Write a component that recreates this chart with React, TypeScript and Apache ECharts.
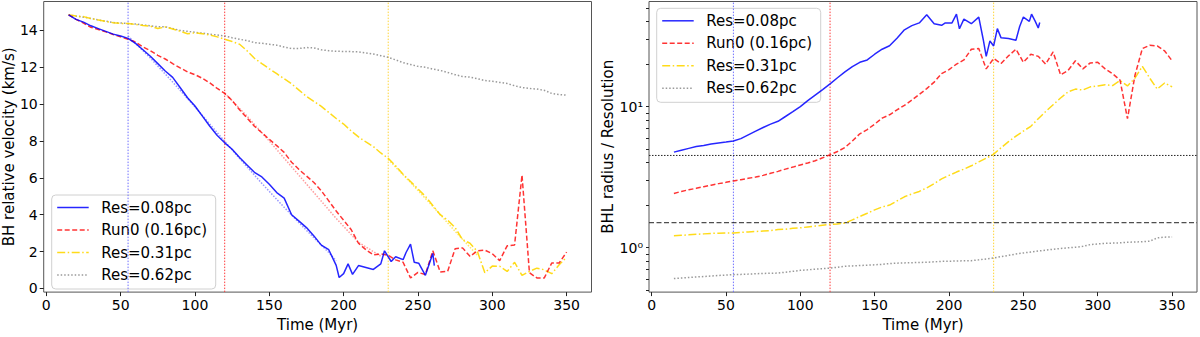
import React, { useEffect, useRef } from "react";
import * as echarts from "echarts";

// ---------- data ----------
const T5 = [15,20,25,30,35,40,45,50,55,60,65,70,75,80,85,90,95,100,105,110,115,120,125,130,135,140,145,150,155,160,165,170,175,180,185,190,195,200,205,210,215,220,225,230,235,240,245,250,255,260,265,270,275,280,285,290,295,300,305,310,315,320,325,330,335,340,345,350];

// Left panel: BH relative velocity (km/s)
const blueVelT = [15,20,25,30,35,40,45,50,55,60,65,70,75,80,85,90,95,100,105,110,115,120,125,130,135,140,145,150,155,160,165,170,175,180,185,190,195,197,200,203,206,210,220,225,227.5,232,235,240,242,245,247.5,250.5,255,260,261];
const blueVel = [14.85,14.6,14.45,14.25,14.1,13.95,13.8,13.7,13.57,13.3,12.95,12.6,12.2,11.8,11.45,10.9,10.35,9.9,9.35,8.8,8.3,7.9,7.55,7.1,6.7,6.3,6.05,5.65,5.2,4.9,4.0,3.65,3.3,2.85,2.35,2.1,1.25,0.59,0.8,1.33,0.76,1.24,1.03,1.33,2.04,1.46,1.72,1.56,1.95,2.4,1.42,1.37,0.71,1.9,1.24];
const redVel = [14.85,14.6,14.4,14.17,14.05,13.92,13.78,13.65,13.52,13.37,13.1,12.9,12.65,12.45,12.2,11.97,11.75,11.6,11.4,11.15,10.85,10.58,10.2,9.69,9.25,8.8,8.45,8.09,7.75,7.38,6.85,6.45,6.1,5.75,5.3,4.75,4.2,3.7,3.2,2.45,2.1,1.82,1.87,1.8,1.55,1.42,0.57,0.87,0.75,2.04,0.89,0.93,2.15,2.2,1.74,2.04,2.08,1.88,1.51,2.31,2.36,6.15,0.85,0.57,0.57,1.38,1.38,1.97];
const yelVel = [14.85,14.78,14.75,14.65,14.57,14.49,14.42,14.38,14.37,14.33,14.27,14.23,14.1,14.19,14.08,13.96,13.82,13.87,13.82,13.75,13.65,13.52,13.4,13.25,12.9,12.49,12.2,11.92,11.65,11.38,11.1,10.76,10.42,10.15,9.88,9.55,9.22,8.92,8.55,8.22,7.95,7.7,7.35,7.06,6.65,6.2,5.8,5.4,5.0,4.5,4.0,3.7,3.3,2.65,2.45,2.0,0.85,1.21,1.2,0.92,1.42,0.71,0.92,1.1,1.01,0.8,1.28,1.69];
const grayVel = [14.85,14.78,14.72,14.65,14.57,14.5,14.43,14.4,14.38,14.35,14.3,14.25,14.2,14.2,14.1,14.0,13.95,13.9,13.85,13.8,13.75,13.7,13.6,13.52,13.45,13.34,13.3,13.25,13.2,13.1,13.02,13.02,13.07,13.05,12.95,12.9,12.87,12.86,12.85,12.84,12.78,12.72,12.63,12.54,12.4,12.25,12.15,12.05,12.0,11.9,11.83,11.72,11.6,11.5,11.47,11.38,11.28,11.24,11.18,11.12,11.0,10.9,10.85,10.82,10.75,10.58,10.52,10.49];

// Left panel fits (faint dotted)
const blueFitT = [55,70,85,100,115,130,145,160,175,190,195];
const blueFit = [13.7,12.5,11.2,9.85,8.45,7.05,5.7,4.4,3.15,1.95,1.5];
const redFitT = [120,135,150,165,180,195,210,225];
const redFit = [10.6,9.35,8.0,6.6,5.2,3.8,2.5,1.75];
const yelFitT = [230,245,260,275,290];
const yelFit = [7.0,5.75,4.45,3.1,1.8];

// Right panel: BHL radius / Resolution
const blueRadT = [15,20,25,30,35,40,45,50,55,60,65,70,75,80,85,90,95,100,105,110,115,120,125,130,135,140,145,150,155,160,165,170,175,180,185,190,195,197.5,202,205,207,210,215,220,223,225,227.5,230,232.5,235,240,245,247.5,250,254,255.5,258,260,261];
const blueRad = [4.75,4.9,5.05,5.2,5.3,5.42,5.52,5.6,5.7,5.92,6.3,6.7,7.1,7.5,7.86,8.5,9.2,10.0,11.0,12.05,13.2,14.5,16.0,17.6,19.2,20.6,21.4,23.5,25.5,27.0,30.5,35.0,37.5,39.2,44.8,38.7,37.7,39.2,39.2,45.2,35.6,41.7,38.7,43.1,29.9,22.7,29.2,26.9,35.7,30.7,30.4,29.5,37,43.1,40.2,45.2,40.2,36.1,39.5];
const redRad = [2.42,2.5,2.57,2.63,2.7,2.77,2.84,2.9,2.97,3.03,3.1,3.16,3.25,3.36,3.47,3.6,3.72,3.85,3.98,4.13,4.33,4.55,4.8,5.12,5.7,6.41,6.87,7.5,8.28,8.74,9.47,10.2,11.1,12.2,13.4,14.9,17.1,18.3,20.0,21.4,25.5,25.8,18.5,21.9,20.2,22.9,25.5,20.6,23.5,22.7,20.0,24.4,16.8,18.0,21.1,18.5,20.4,20.6,18.5,17.1,15.4,8.2,16.6,25.8,27.2,26.9,24.8,21.1];
const yelRad = [1.21,1.22,1.23,1.24,1.25,1.26,1.265,1.27,1.27,1.28,1.29,1.3,1.31,1.32,1.34,1.35,1.37,1.38,1.4,1.42,1.44,1.46,1.47,1.49,1.57,1.66,1.75,1.85,1.94,2.0,2.14,2.29,2.4,2.5,2.65,2.84,3.07,3.25,3.43,3.6,3.8,4.05,4.3,4.6,5.1,5.64,6.17,6.7,7.24,8.2,9.22,10.3,11.5,12.7,13.3,13.1,13.8,14.0,14.3,14.1,15.3,14.0,15.9,19.3,15.9,13.3,14.7,13.8];
const grayRad = [0.603,0.608,0.613,0.618,0.623,0.628,0.634,0.638,0.642,0.645,0.648,0.652,0.655,0.657,0.659,0.668,0.678,0.689,0.695,0.702,0.708,0.714,0.725,0.737,0.741,0.745,0.75,0.754,0.76,0.77,0.775,0.778,0.781,0.784,0.786,0.792,0.798,0.8,0.803,0.805,0.807,0.818,0.83,0.843,0.862,0.88,0.9,0.915,0.93,0.945,0.958,0.972,0.985,0.995,1.005,1.02,1.05,1.06,1.07,1.075,1.08,1.09,1.095,1.1,1.11,1.17,1.185,1.19];

// reference lines
const vLines = [55, 120, 230];
const hLinesRight = [4.5, 1.5];

// ticks
const xTicks = [0, 50, 100, 150, 200, 250, 300, 350];
const yTicksLeft = [0, 2, 4, 6, 8, 10, 12, 14];
const yTicksRightMajor = [1, 10];
const yTicksRightMinor = [0.5, 0.6, 0.7, 0.8, 0.9, 2, 3, 4, 5, 6, 7, 8, 9, 20, 30, 40, 50];

const names = ["Res=0.08pc", "Run0 (0.16pc)", "Res=0.31pc", "Res=0.62pc"];
const colors = ["rgba(0,0,255,0.85)", "rgba(255,0,0,0.8)", "rgba(255,215,0,0.9)", "rgba(128,128,128,0.8)"];
const dashes: any[] = ["solid", [5, 2.5], [8, 2.5, 1.5, 2.5], [1.5, 2]];
const vColors = ["#6f6fff", "#ff3a3a", "#ffd53a"];

const FONT = "DejaVu Sans";
const sup: Record<string, string> = { "0": "⁰", "1": "¹", "-": "⁻" };

function pairs(t: number[], v: number[], log = false) {
  return t.map((x, i) => [x, log ? Math.log10(v[i]) : v[i]]);
}

export default function App() {
  const ref = useRef<HTMLDivElement>(null);
  useEffect(() => {
    document.body.style.margin = "0";
    const chart = echarts.init(ref.current!, null, { renderer: "svg" });

    const gridL = { left: 43.5, top: 1.5, width: 548, height: 295.5 };
    const gridR = { left: 649, top: 1.5, width: 548, height: 295.5 };
    const gridStyle = { show: true, borderColor: "#555", borderWidth: 1, backgroundColor: "transparent" };

    const yMinL = -0.2, yMaxL = 15.57;
    const lmin = Math.log10(0.483);
    const lmax = Math.log10(55.6);
    const xMin = -1.75, xMax = 366.75;

    const tickStyle = { lineStyle: { color: "#222", width: 1 } };
    const xAxisCommon = (gi: number) => ({
      type: "value",
      gridIndex: gi,
      position: "bottom",
      min: xMin,
      max: xMax,
      axisLine: { show: false, onZero: false },
      axisTick: { show: true, length: 4, customValues: xTicks, ...tickStyle },
      axisLabel: { customValues: xTicks, fontSize: 14, color: "#000", fontFamily: FONT, margin: 6 },
      splitLine: { show: false },
      name: "Time (Myr)",
      nameLocation: "middle",
      nameGap: 18,
      nameTextStyle: { fontSize: 15, color: "#000", fontFamily: FONT },
    });

    const seriesLeft: any[] = [blueVel, redVel, yelVel, grayVel].map((v, i) => ({
      type: "line",
      name: names[i],
      xAxisIndex: 0,
      yAxisIndex: 0,
      data: pairs(i === 0 ? blueVelT : T5, v),
      symbol: "none",
      lineStyle: { color: colors[i], width: 1.5, type: dashes[i] },
      z: 3 + (3 - i),
    }));
    const fitSeries = [
      [blueFitT, blueFit, "rgba(70,70,255,0.55)"],
      [redFitT, redFit, "rgba(255,60,60,0.5)"],
      [yelFitT, yelFit, "rgba(255,215,0,0.6)"],
    ].map(([t, v, c]: any) => ({
      type: "line",
      xAxisIndex: 0,
      yAxisIndex: 0,
      data: pairs(t, v),
      symbol: "none",
      lineStyle: { color: c, width: 1.5, type: [1.5, 1.5] },
      z: 2,
    }));
    const seriesRight: any[] = [blueRad, redRad, yelRad, grayRad].map((v, i) => ({
      type: "line",
      name: names[i],
      xAxisIndex: 1,
      yAxisIndex: 1,
      data: pairs(i === 0 ? blueRadT : T5, v, true),
      symbol: "none",
      lineStyle: { color: colors[i], width: 1.5, type: dashes[i] },
      z: 3 + (3 - i),
    }));

    // reference lines as plain two-point line series through the axes
    const refLine = (xi: number, yi: number, pts: number[][], color: string, type: any) => ({
      type: "line",
      xAxisIndex: xi,
      yAxisIndex: yi,
      data: pts,
      symbol: "none",
      silent: true,
      lineStyle: { color, width: 1, type },
      z: 1,
    });
    const refSeries: any[] = [];
    vLines.forEach((x, i) => {
      refSeries.push(refLine(0, 0, [[x, yMinL], [x, yMaxL]], vColors[i], [1.5, 1.5]));
      refSeries.push(refLine(1, 1, [[x, lmin], [x, lmax]], vColors[i], [1.5, 1.5]));
    });
    refSeries.push(refLine(1, 1, [[xMin, Math.log10(hLinesRight[0])], [xMax, Math.log10(hLinesRight[0])]], "#222", [1.5, 1.5]));
    refSeries.push(refLine(1, 1, [[xMin, Math.log10(hLinesRight[1])], [xMax, Math.log10(hLinesRight[1])]], "#222", [5, 2.5]));

    const legendGraphic = (x0: number, y0: number) => {
      const children: any[] = [
        {
          type: "rect",
          shape: { x: x0, y: y0, width: 164, height: 94, r: 4 },
          style: { fill: "rgba(255,255,255,0.8)", stroke: "#d0d0d0", lineWidth: 1 },
        },
      ];
      names.forEach((n, i) => {
        const cy = y0 + 12.5 + i * 22.5;
        children.push({
          type: "line",
          shape: { x1: x0 + 5.5, y1: cy, x2: x0 + 37, y2: cy },
          style: { stroke: colors[i], lineWidth: 1.5, lineDash: dashes[i] === "solid" ? null : dashes[i] },
        });
        children.push({
          type: "text",
          x: x0 + 49.5,
          y: cy,
          style: { text: n, fontSize: 15, fontFamily: FONT, fill: "#000", verticalAlign: "middle", align: "left" },
        });
      });
      return { type: "group", z: 100, children };
    };

    const rightTickVals = [...yTicksRightMajor, ...yTicksRightMinor].map((v) => Math.log10(v));

    chart.setOption({
      animation: false,
      textStyle: { fontFamily: FONT },
      grid: [
        { ...gridL, ...gridStyle },
        { ...gridR, ...gridStyle },
      ],
      xAxis: [xAxisCommon(0), xAxisCommon(1)],
      yAxis: [
        {
          type: "value",
          gridIndex: 0,
          position: "left",
          min: yMinL,
          max: yMaxL,
          axisLine: { show: false, onZero: false },
          axisTick: { show: true, length: 4, customValues: yTicksLeft, ...tickStyle },
          axisLabel: { customValues: yTicksLeft, fontSize: 14, color: "#000", fontFamily: FONT, margin: 6 },
          splitLine: { show: false },
          name: "BH relative velocity (km/s)",
          nameLocation: "middle",
          nameRotate: 90,
          nameGap: 27,
          nameTextStyle: { fontSize: 15, color: "#000", fontFamily: FONT },
        },
        {
          type: "value",
          gridIndex: 1,
          position: "left",
          min: lmin,
          max: lmax,
          axisLine: { show: false, onZero: false },
          axisTick: { show: true, length: 3, customValues: rightTickVals, ...tickStyle },
          axisLabel: {
            customValues: yTicksRightMajor.map((v) => Math.log10(v)),
            fontSize: 14,
            color: "#000",
            fontFamily: FONT,
            margin: 6,
            formatter: (v: number) => "10" + String(Math.round(v)).split("").map((c) => sup[c] || c).join(""),
          },
          splitLine: { show: false },
          name: "BHL radius / Resolution",
          nameLocation: "middle",
          nameRotate: 90,
          nameGap: 33,
          nameTextStyle: { fontSize: 15, color: "#000", fontFamily: FONT },
        },
      ],
      graphic: [legendGraphic(51.7, 195), legendGraphic(656.7, 8.3)],
      series: [...refSeries, ...fitSeries, ...seriesLeft, ...seriesRight],
    } as any);
    return () => chart.dispose();
  }, []);
  return <div ref={ref} style={{ width: 1200, height: 337, position: "absolute", left: 0, top: 0 }} />;
}
